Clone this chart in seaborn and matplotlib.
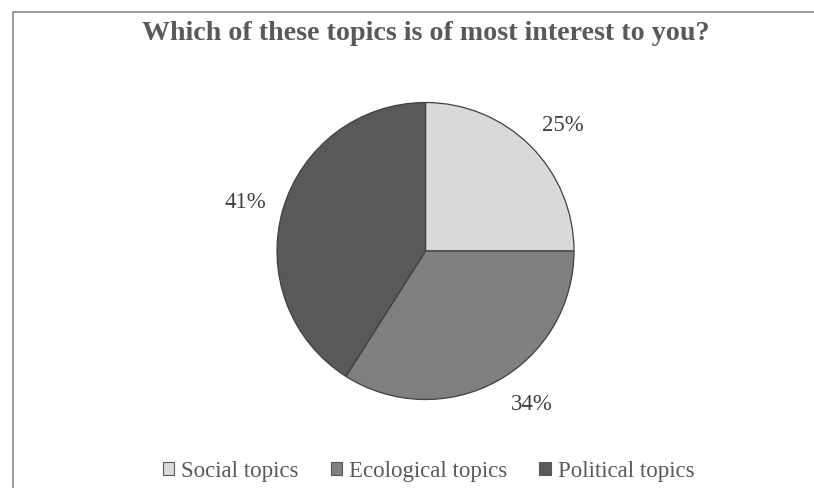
import matplotlib
matplotlib.use("Agg")
import numpy as np
import matplotlib.pyplot as plt
from matplotlib.lines import Line2D
from matplotlib.patches import Patch
import seaborn as sns

# Survey answers
topics = ["Social topics", "Ecological topics", "Political topics"]
shares = [25, 34, 41]
colors = ["#d9d9d9", "#7f7f7f", "#595959"]
title = "Which of these topics is of most interest to you?"

# Small angular nudges (degrees) applied to the percentage labels
label_shift = [-2.5, 6.0, 1.0]

sns.set_theme(style="white")
plt.rcParams["font.family"] = ["Liberation Serif", "DejaVu Serif"]

W, H = 814, 488
fig = plt.figure(figsize=(W / 100, H / 100), dpi=100)
fig.patch.set_facecolor("white")

# Square axes holding the pie
cx, cy, r = 425.5, 251.0, 148.5
ax = fig.add_axes([(cx - r) / W, (H - cy - r) / H, 2 * r / W, 2 * r / H])
wedges, texts, autotexts = ax.pie(
    shares,
    colors=colors,
    startangle=90,
    counterclock=False,
    radius=1.0,
    autopct=lambda p: f"{p:.0f}%",
    pctdistance=1.255,
    wedgeprops=dict(edgecolor="#404040", linewidth=0.9),
    textprops=dict(fontsize=16.5, color="#404040"),
)
for w, t, d in zip(wedges, autotexts, label_shift):
    ang = np.deg2rad((w.theta1 + w.theta2) / 2 + d)
    t.set_position((1.255 * np.cos(ang), 1.255 * np.sin(ang)))

ax.set_xlim(-1, 1)
ax.set_ylim(-1, 1)
ax.set_aspect("equal")
ax.axis("off")

fig.text(cx / W, 1 - 33 / H, title, ha="center", va="center",
         fontsize=20.2, fontweight="bold", color="#595959")

handles = [Patch(facecolor=c, edgecolor="#595959", linewidth=0.8) for c in colors]
fig.legend(handles, topics, loc="center", bbox_to_anchor=(428.5 / W, 1 - 471 / H),
           ncol=3, frameon=False, fontsize=16.5, handlelength=0.5,
           handleheight=0.5, handletextpad=0.3, columnspacing=1.4,
           labelcolor="#595959")

# Chart border (top and left edges visible)
frame_kw = dict(color="#808080", linewidth=1.1, transform=fig.transFigure)
fig.add_artist(Line2D([13 / W, 1.0], [1 - 11.7 / H, 1 - 11.7 / H], **frame_kw))
fig.add_artist(Line2D([13 / W, 13 / W], [0.0, 1 - 11.7 / H], **frame_kw))

fig.savefig("out.png", dpi=100, facecolor="white")
